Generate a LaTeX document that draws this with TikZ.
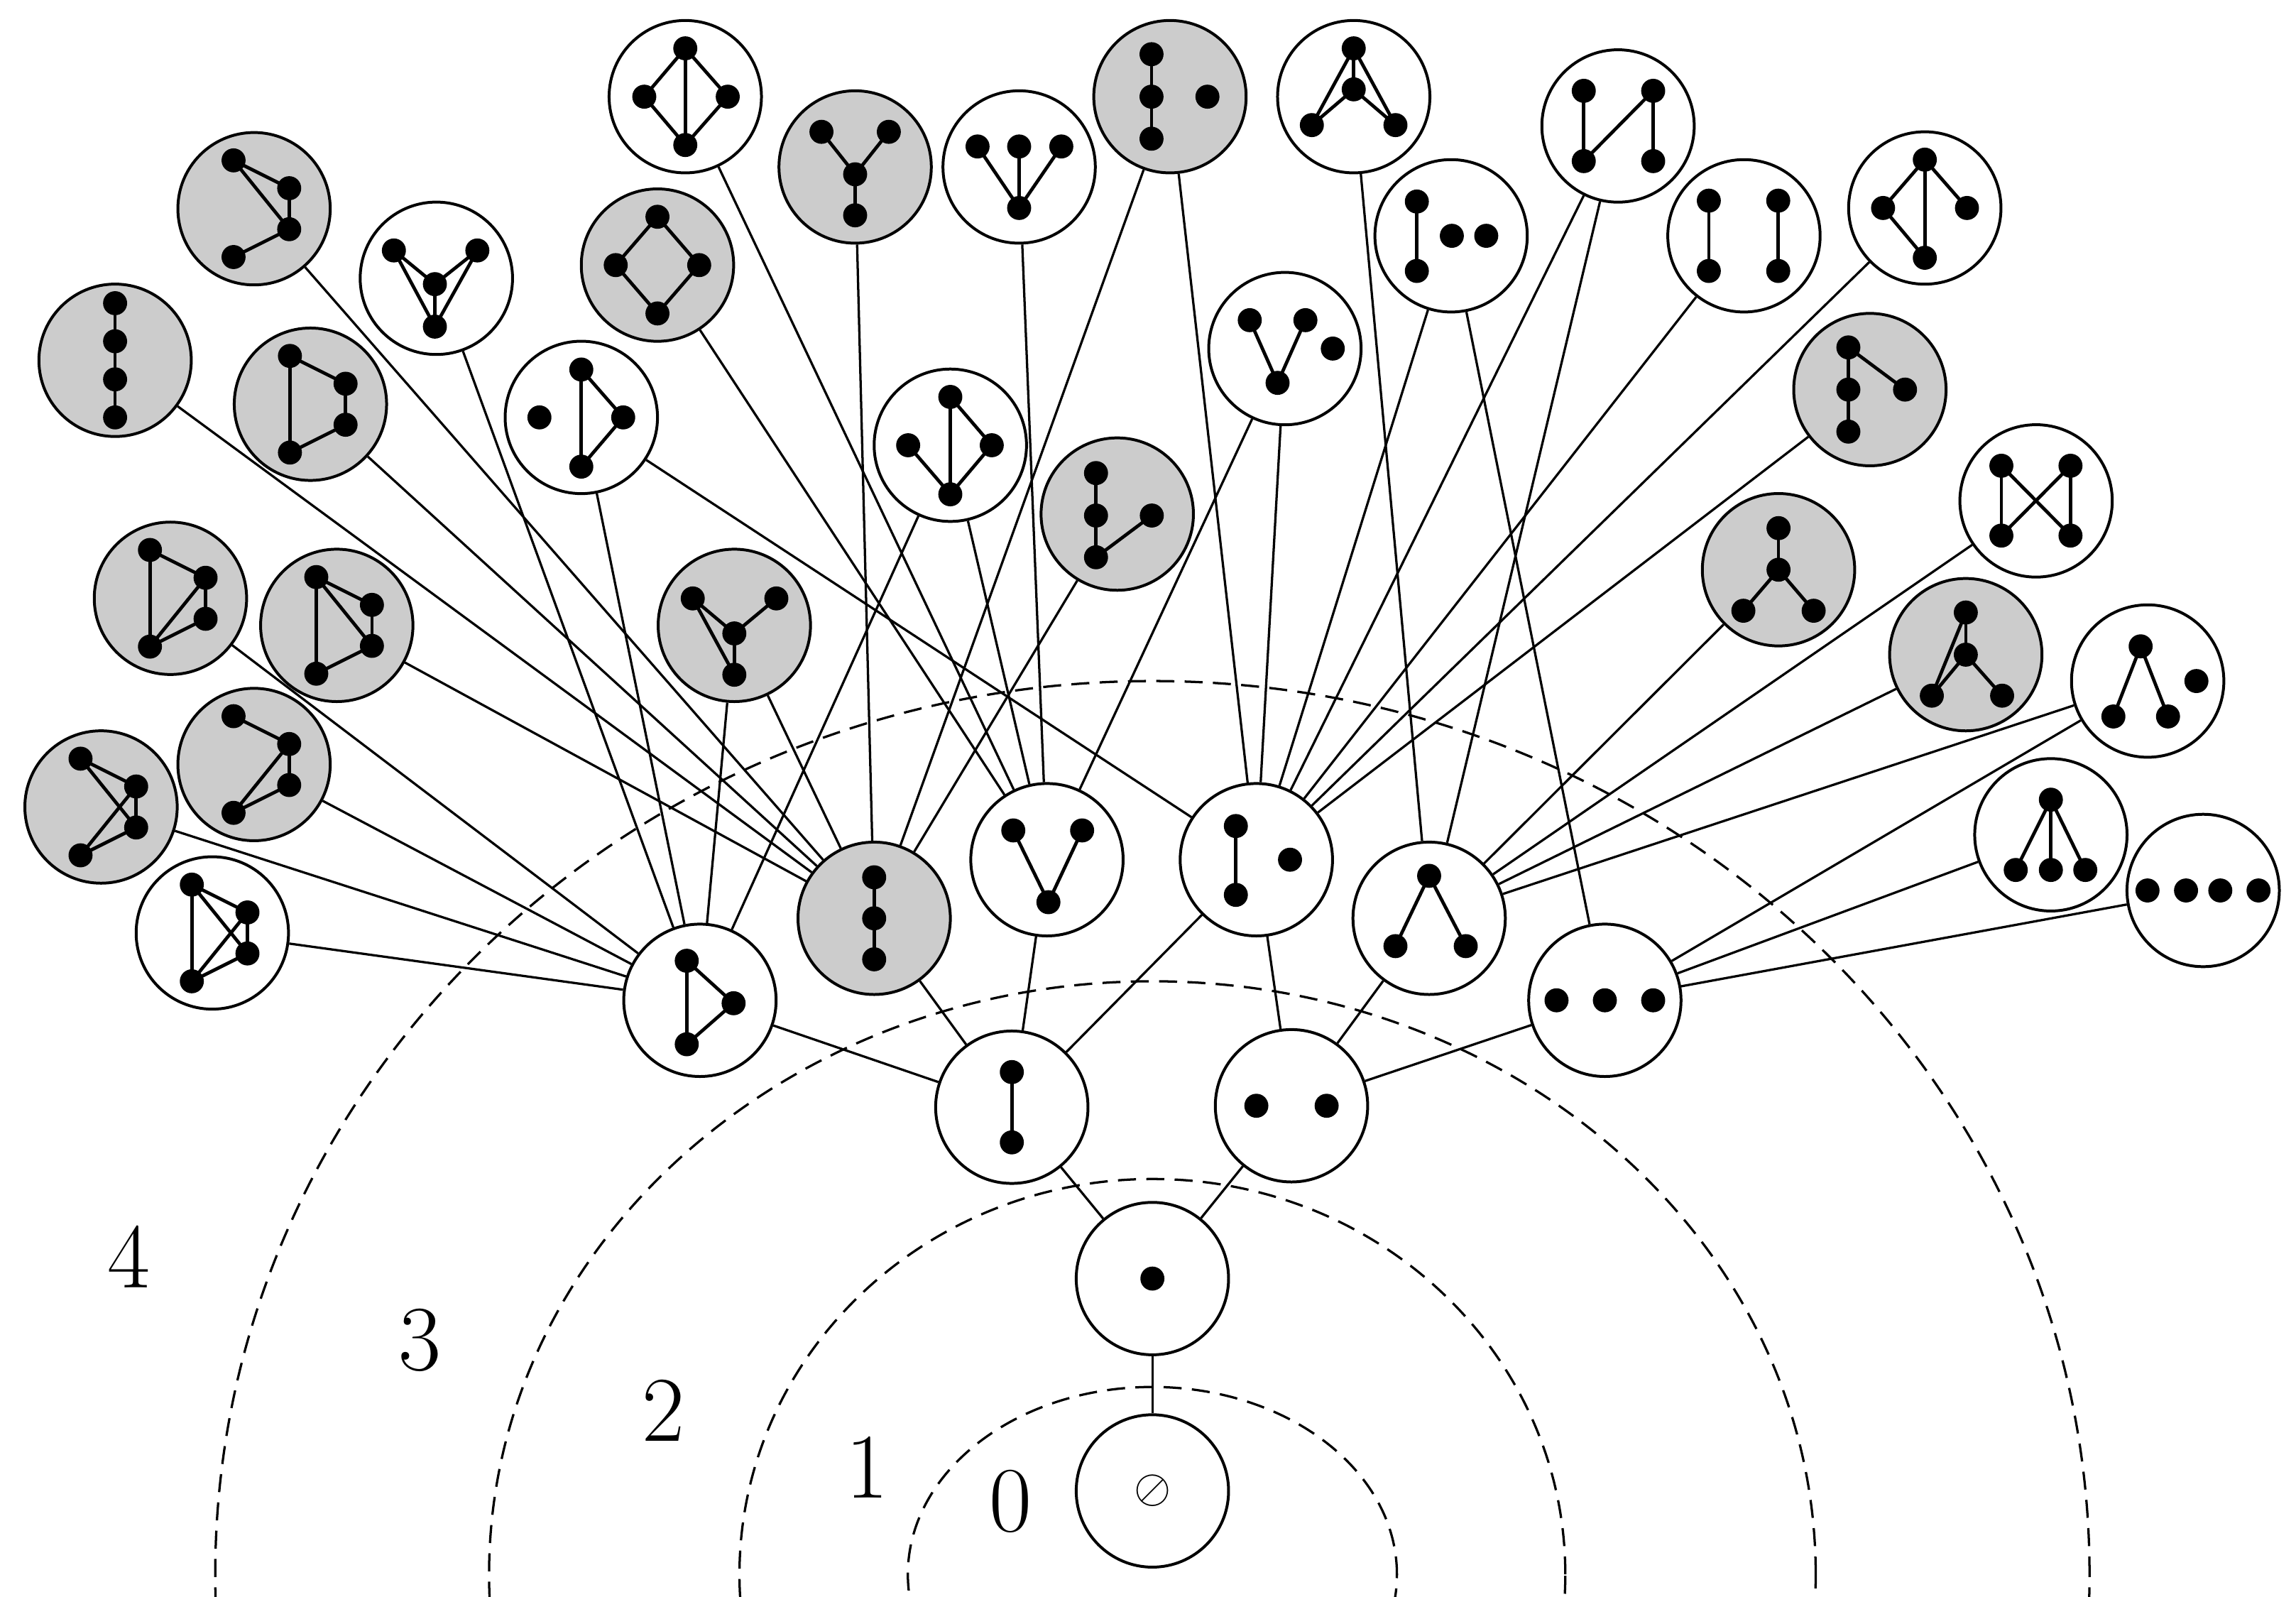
\documentclass[tikz,border=0pt]{standalone}
\usetikzlibrary{backgrounds}

\tikzset{
  gnode/.style={circle,draw,line width=0.55pt,minimum size=1.04cm,inner sep=0pt,fill=white},
  gnodeg/.style={gnode,fill=black!20},
  gedge/.style={line width=0.65pt},
  link/.style={line width=0.45pt},
  ring/.style={line width=0.45pt,dash pattern=on 3.5pt off 2pt},
}

% dots of a small graph inside a node, then its edges
\newcommand{\gdots}[2]{%
  \begin{scope}[shift={(#1.center)}]
    \foreach \px/\py [count=\i] in {#2} {\coordinate (v\i) at (\px,\py); \fill (\px,\py) circle (0.082cm);}
  \end{scope}}
\newcommand{\graphin}[3]{%
  \gdots{#1}{#2}
  \foreach \a/\b in {#3} \draw[gedge] (v\a) -- (v\b);}

\begin{document}
\begin{tikzpicture}[x=0.01cm,y=0.01cm]
  \useasboundingbox (0,0) rectangle (1568,-1090);

  % levels 0 to 3
  \node[gnode] (e0) at (787,-1018) {\fontsize{9}{9}\selectfont$\oslash$};
  \node[gnode] (d1) at (787,-873) {};
  \node[gnode] (edge2) at (691,-756) {};
  \node[gnode] (two2) at (882,-755) {};
  \node[gnode] (tri3) at (478,-683) {};
  \node[gnodeg] (path3) at (597,-627) {};
  \node[gnode] (vee3) at (715,-587) {};
  \node[gnode] (ed3) at (858,-587) {};
  \node[gnode] (wedge3) at (976,-627) {};
  \node[gnode] (three3) at (1096,-683) {};

  % level 4
  \foreach \n/\x/\y in {a/145/637, i/298/190, j/397/285, l/468/66, o/649/304,
      p/696/114, s/877.5/238, t/924.5/66, u/991/161, v/1105/86, w/1191/161,
      x/1314.5/142, z/1390.5/342, ac/1466.7/465, ad/1400.6/570, ae/1504.6/608} {
    \node[gnode] (\n) at (\x,-\y) {};
  }
  \foreach \n/\x/\y in {b/69/551, c/173.5/522, d/116.4/408.5, e/230/427,
      f/78.6/246, g/212/276, h/173.5/142.5, k/449/181, m/584/114, n/501.5/427,
      q/763/351, r/799/66, y/1277/266, aa/1214.6/389, ab/1342.5/447} {
    \node[gnodeg] (\n) at (\x,-\y) {};
  }

  \begin{pgfonlayer}{background}
    \begin{scope}
      \clip (0,0) rectangle (1568,-1090);
      \foreach \rx/\ry in {167/128, 282/270, 453/405, 640/610} {
        \draw[ring] (787,-1075) ellipse [x radius=\rx, y radius=\ry];
      }
    \end{scope}
    \draw[link] (e0) -- (d1);
    \foreach \c/\q in {edge2/d1, two2/d1, tri3/edge2, path3/edge2, vee3/edge2,
        ed3/edge2, ed3/two2, wedge3/two2, three3/two2} {
      \draw[link] (\c) -- (\q);
    }
    \foreach \c/\q in {a/tri3, b/tri3, c/tri3, d/tri3, i/tri3, j/tri3, n/tri3, o/tri3,
        e/path3, f/path3, g/path3, h/path3, n/path3, m/path3, q/path3, r/path3,
        l/vee3, k/vee3, o/vee3, p/vee3, s/vee3,
        j/ed3, r/ed3, s/ed3, u/ed3, v/ed3, w/ed3, x/ed3, y/ed3,
        t/wedge3, v/wedge3, aa/wedge3, z/wedge3, ab/wedge3, ac/wedge3,
        u/three3, ac/three3, ad/three3, ae/three3} {
      \draw[link] (\c) -- (\q);
    }
  \end{pgfonlayer}

  \gdots{d1}{0/0}
  \graphin{edge2}{0/24, 0/-24}{1/2}
  \gdots{two2}{-24/0, 24/0}
  \graphin{tri3}{-9/27, 23/-2, -9/-30}{1/2,2/3,1/3}
  \graphin{path3}{0/28, 0/0, 0/-28}{1/2,2/3}
  \graphin{vee3}{-23/20, 24/20, 1/-29}{1/3,2/3}
  \graphin{ed3}{-14/23, -14/-24, 23/0}{1/2}
  \graphin{wedge3}{0/29, -23/-19, 25/-19}{1/2,1/3}
  \gdots{three3}{-33/0, 0/0, 33/0}

  \graphin{a}{-14/33, 24/14, 24/-14, -14/-33}{1/4,1/2,1/3,2/3,4/2,4/3}
  \graphin{b}{-14/33, 24/14, 24/-14, -14/-33}{1/2,1/3,2/3,4/2,4/3}
  \graphin{c}{-14/33, 24/14, 24/-14, -14/-33}{1/2,2/3,4/2,4/3}
  \graphin{d}{-14/33, 24/14, 24/-14, -14/-33}{1/4,1/2,2/3,4/2,4/3}
  \graphin{e}{-14/33, 24/14, 24/-14, -14/-33}{1/4,1/2,1/3,2/3,4/3}
  \graphin{f}{0/39, 0/13, 0/-13, 0/-39}{1/2,2/3,3/4}
  \graphin{g}{-14/33, 24/14, 24/-14, -14/-33}{1/4,1/2,2/3,3/4}
  \graphin{h}{-14/33, 24/14, 24/-14, -14/-33}{1/2,1/3,2/3,3/4}
  \graphin{i}{-29/19, 28/19, -1/-4, -1/-33}{1/3,2/3,3/4,1/4,2/4}
  \graphin{j}{-28.6/0, 0/32.7, 28.6/0, 0/-33.6}{2/4,2/3,3/4}
  \graphin{k}{0/33, -28.5/0, 28.5/0, 0/-33}{1/2,1/3,2/4,3/4}
  \graphin{l}{0/33, -28/0, 29/0, 0/-33}{1/2,1/3,1/4,2/4,3/4}
  \graphin{m}{-23/24, 23/24, 0/-5, 0/-33}{1/3,2/3,3/4}
  \graphin{n}{-28.4/18.4, 28.7/18.4, 0/-5.5, 0/-33.7}{1/3,2/3,3/4,1/4}
  \graphin{o}{0/33, -28.8/0, 28.3/0, 0/-33.5}{1/4,1/3,3/4,2/4}
  \graphin{p}{-28.4/14, 0/14, 28.8/14, 0/-28}{1/4,2/4,3/4}
  \graphin{q}{-14.5/28, -14.5/-1, -14.5/-29.5, 23.6/-1}{1/2,2/3,3/4}
  \graphin{r}{-12.6/29, -12.6/0, -12.6/-28.7, 25.6/0}{1/2,2/3}
  \graphin{s}{-24/19.4, 14/19.4, -5/-23.4, 32.7/0}{1/3,2/3}
  \graphin{t}{0/33, 0/5, -28.6/-19.4, 28.5/-19.4}{1/2,1/3,1/4,2/3,2/4}
  \graphin{u}{-23.4/23.4, -23.4/-24, 0.5/0, 24/0}{1/2}
  \graphin{v}{-23.4/24, -23.4/-24, 24/24, 24/-24}{1/2,2/3,3/4}
  \graphin{w}{-24/24, -24/-24, 23.4/24, 23.4/-24}{1/2,3/4}
  \graphin{x}{0/33, -28.5/0, 28.8/0, 0/-34}{1/2,1/3,1/4,2/4}
  \graphin{y}{-14.7/28.8, -14.7/0, -14.7/-28.7, 24/0}{1/2,2/3,1/4}
  \graphin{z}{-23.7/24, 23.5/24, -23.7/-23.7, 23.5/-23.7}{1/3,2/4,1/4,2/3}
  \graphin{aa}{0/28.4, 0/0, -24/-28, 24/-28}{1/2,2/3,2/4}
  \graphin{ab}{0/28.8, 0/0, -23.2/-28, 24.8/-28}{1/2,1/3,2/3,2/4}
  \graphin{ac}{-4.8/23.7, -23.4/-24.2, 13.9/-24.2, 33.3/0}{1/2,1/3}
  \graphin{ad}{0/24, -24/-24, 0/-24, 23.5/-24}{1/2,1/3,1/4}
  \gdots{ae}{-38/0, -11.7/0, 11.7/0, 37.8/0}

  % level numbers
  \foreach \t/\x/\y in {0/690/1025, 1/592/1002, 2/453/963, 3/287/915, 4/88/858} {
    \node[font=\fontsize{18}{20}\selectfont] (lev\t) at (\x,-\y) {\t};
  }
\end{tikzpicture}
\end{document}
